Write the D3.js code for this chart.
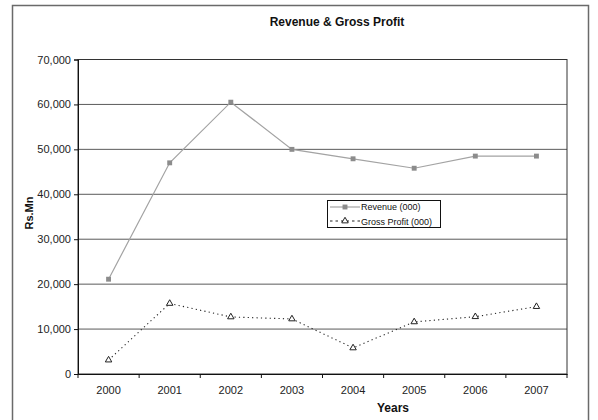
<!DOCTYPE html>
<html>
<head>
<meta charset="utf-8">
<script src="https://cdn.jsdelivr.net/npm/d3@7"></script>
<style>
  html, body { margin: 0; padding: 0; background: #fff; }
  svg { display: block; font-family: "Liberation Sans", Arial, sans-serif; }
</style>
</head>
<body>
<svg id="chart" width="598" height="420"></svg>
<script>
// Yearly figures, Rs. Mn
const years = ["2000", "2001", "2002", "2003", "2004", "2005", "2006", "2007"];
const revenue = [21100, 47000, 60500, 50000, 47900, 45800, 48500, 48500];
const grossProfit = [3100, 15700, 12700, 12250, 5800, 11600, 12750, 15000];
const yTicks = [0, 10000, 20000, 30000, 40000, 50000, 60000, 70000];

const svg = d3.select("#chart");
const plot = { left: 78, top: 59.5, right: 567, bottom: 374 };

const x = d3.scaleBand().domain(years).range([plot.left, plot.right]);
const y = d3.scaleLinear().domain([0, 70000]).range([plot.bottom, plot.top]);
const cx = d => x(d) + x.bandwidth() / 2;

// outer chart frame
svg.append("rect")
  .attr("x", 12.5).attr("y", 5.5)
  .attr("width", 576).attr("height", 430)
  .attr("fill", "none").attr("stroke", "#6a6a6a").attr("stroke-width", 1.5);

// title
svg.append("text")
  .attr("x", 337).attr("y", 26)
  .attr("text-anchor", "middle")
  .attr("font-size", 12).attr("font-weight", "bold").attr("fill", "#111")
  .text("Revenue & Gross Profit");

// horizontal gridlines
svg.append("g").selectAll("line")
  .data(yTicks.filter(t => t > 0 && t < 70000))
  .join("line")
  .attr("x1", plot.left).attr("x2", plot.right)
  .attr("y1", d => y(d)).attr("y2", d => y(d))
  .attr("stroke", "#5a5a5a").attr("stroke-width", 1);

// plot border
svg.append("rect")
  .attr("x", plot.left).attr("y", plot.top)
  .attr("width", plot.right - plot.left).attr("height", plot.bottom - plot.top)
  .attr("fill", "none").attr("stroke", "#333").attr("stroke-width", 1);

// y axis
const yAxis = svg.append("g")
  .attr("transform", `translate(${plot.left},0)`)
  .call(d3.axisLeft(y).tickValues(yTicks).tickSize(4).tickPadding(3).tickFormat(d3.format(",")));
yAxis.select(".domain").attr("stroke", "#111");
yAxis.selectAll(".tick line").attr("stroke", "#111");
yAxis.selectAll("text").attr("font-size", 11).attr("fill", "#222")
  .attr("font-family", "'Liberation Sans', Arial, sans-serif");

// x axis: labels centred on each year, ticks on the band boundaries
const xAxis = svg.append("g")
  .attr("transform", `translate(0,${plot.bottom})`)
  .call(d3.axisBottom(x).tickSize(0).tickPadding(12));
xAxis.select(".domain").attr("stroke", "#111");
xAxis.selectAll("text").attr("font-size", 11).attr("fill", "#222")
  .attr("font-family", "'Liberation Sans', Arial, sans-serif");
svg.append("g").selectAll("line")
  .data(years.map(d => x(d)).concat([plot.right]))
  .join("line")
  .attr("x1", d => d).attr("x2", d => d)
  .attr("y1", plot.bottom).attr("y2", plot.bottom + 4)
  .attr("stroke", "#111");

// axis titles
svg.append("text")
  .attr("transform", "translate(33,213) rotate(-90)")
  .attr("text-anchor", "middle")
  .attr("font-size", 11).attr("font-weight", "bold").attr("fill", "#111")
  .text("Rs.Mn");
svg.append("text")
  .attr("x", 393).attr("y", 412)
  .attr("text-anchor", "middle")
  .attr("font-size", 12).attr("font-weight", "bold").attr("fill", "#111")
  .text("Years");

// series
const line = d3.line().x((d, i) => cx(years[i])).y(d => y(d));
const square = d3.symbol().type(d3.symbolSquare).size(24);
const triangle = d3.symbol().type(d3.symbolTriangle).size(18);

svg.append("path").datum(revenue)
  .attr("d", line).attr("fill", "none")
  .attr("stroke", "#a3a3a3").attr("stroke-width", 1.2);
svg.append("g").selectAll("path").data(revenue).join("path")
  .attr("d", square)
  .attr("transform", (d, i) => `translate(${cx(years[i])},${y(d)})`)
  .attr("fill", "#8c8c8c");

svg.append("path").datum(grossProfit)
  .attr("d", line).attr("fill", "none")
  .attr("stroke", "#222").attr("stroke-width", 1.1)
  .attr("stroke-dasharray", "1.2,3.2");
svg.append("g").selectAll("path").data(grossProfit).join("path")
  .attr("d", triangle)
  .attr("transform", (d, i) => `translate(${cx(years[i])},${y(d)})`)
  .attr("fill", "#fff").attr("stroke", "#222").attr("stroke-width", 1);

// legend
const lg = svg.append("g");
lg.append("rect")
  .attr("x", 327.5).attr("y", 200.5).attr("width", 113).attr("height", 27)
  .attr("fill", "#fff").attr("stroke", "#111").attr("stroke-width", 1);
lg.append("line").attr("x1", 330).attr("x2", 360).attr("y1", 207).attr("y2", 207)
  .attr("stroke", "#a3a3a3").attr("stroke-width", 1.2);
lg.append("path").attr("d", square).attr("transform", "translate(345,207)").attr("fill", "#8c8c8c");
lg.append("line").attr("x1", 330).attr("x2", 360).attr("y1", 221).attr("y2", 221)
  .attr("stroke", "#222").attr("stroke-width", 1.1).attr("stroke-dasharray", "2.5,3");
lg.append("path").attr("d", triangle).attr("transform", "translate(345,221)")
  .attr("fill", "#fff").attr("stroke", "#222");
lg.append("text").attr("x", 361).attr("y", 210).attr("font-size", 9).attr("fill", "#111")
  .text("Revenue (000)");
lg.append("text").attr("x", 361).attr("y", 224.5).attr("font-size", 9).attr("fill", "#111")
  .text("Gross Profit (000)");
</script>
</body>
</html>
